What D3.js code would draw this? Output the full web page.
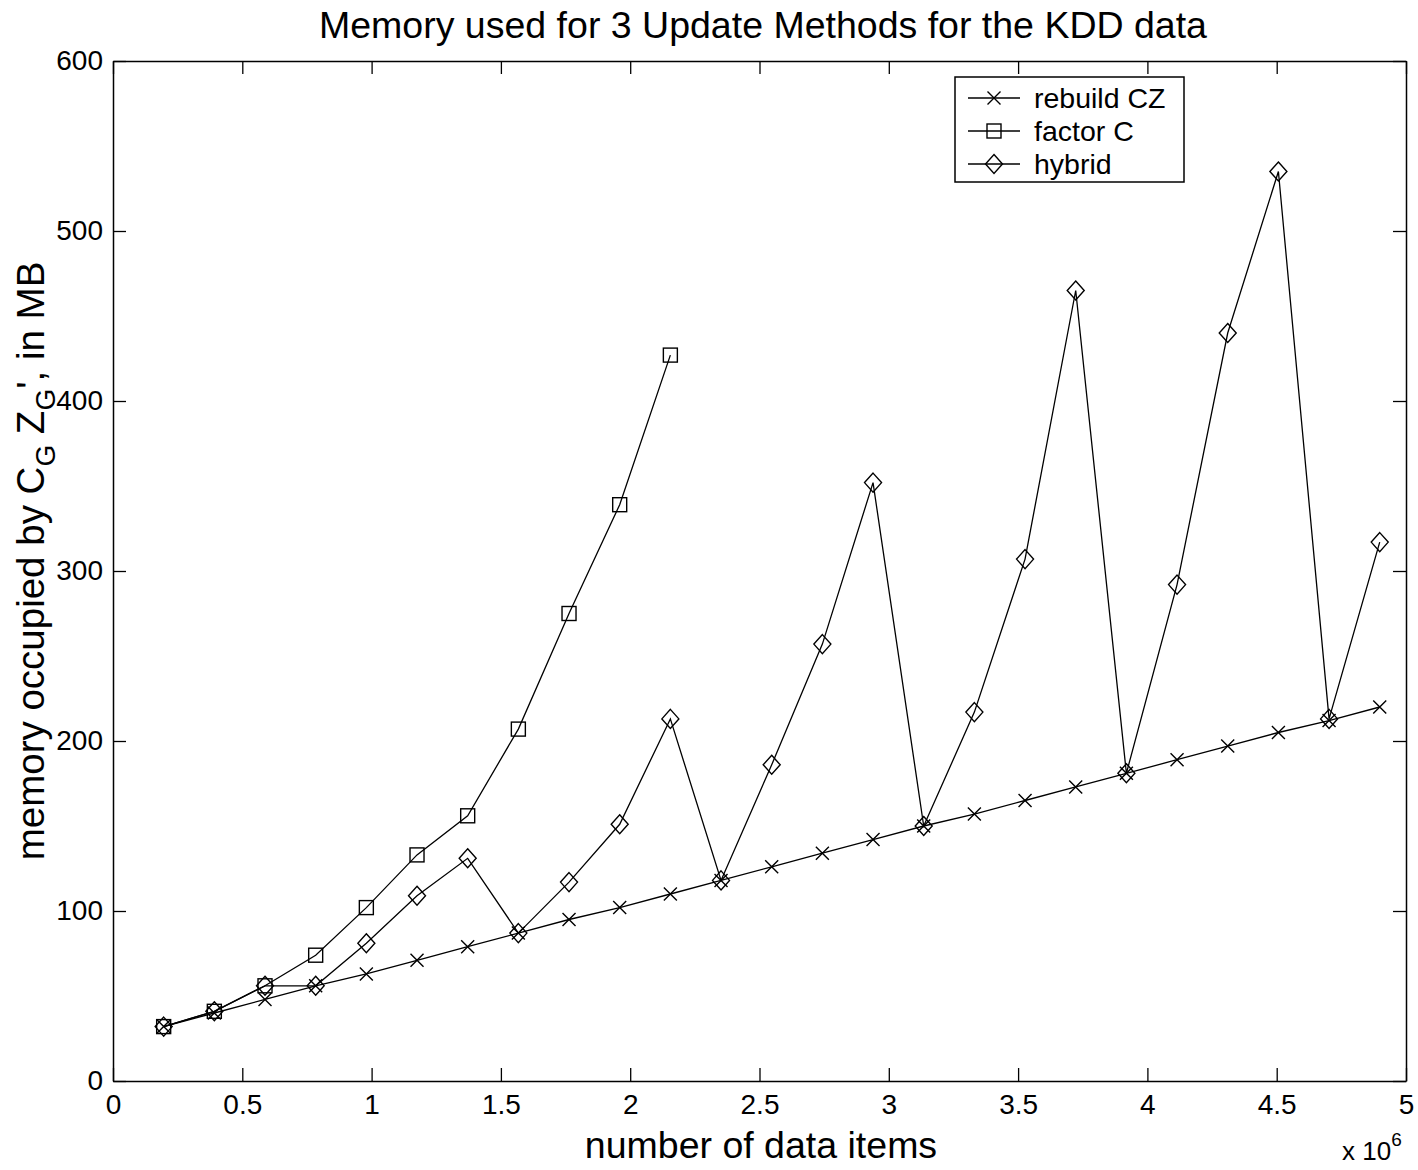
<!DOCTYPE html>
<html>
<head>
<meta charset="utf-8">
<script src="https://cdn.jsdelivr.net/npm/d3@7"></script>
<style>
  body { margin: 0; background: #fff; }
  text { font-family: "Liberation Sans", Arial, Helvetica, sans-serif; fill: #000; }
</style>
</head>
<body>
<script>
// KDD data split into 25 chunks
const step = 195937;
const rebuildCZ = [32, 40, 48, 56, 63, 71, 79, 87, 95, 102, 110, 118, 126, 134, 142, 150, 157, 165, 173, 181, 189, 197, 205, 212, 220];
const factorC = [32, 41, 56, 74, 102, 133, 156, 207, 275, 339, 427];
const hybrid = [32, 41, 56, 56, 81, 109, 131, 87, 117, 151, 213, 118, 186, 257, 352, 150, 217, 307, 465, 181, 292, 440, 535, 213, 317];
const xTicks = [0, 0.5e6, 1e6, 1.5e6, 2e6, 2.5e6, 3e6, 3.5e6, 4e6, 4.5e6, 5e6];
const yTicks = [0, 100, 200, 300, 400, 500, 600];
const seriesNames = ['rebuild CZ', 'factor C', 'hybrid'];

const width = 1418, height = 1170;
const margin = { left: 113, right: 12, top: 61, bottom: 89 };

const svg = d3.select('body').append('svg')
    .attr('width', width)
    .attr('height', height);

const x = d3.scaleLinear().domain([0, 5e6]).range([margin.left, width - margin.right]);
const y = d3.scaleLinear().domain([0, 600]).range([height - margin.bottom, margin.top]);

const toPoints = vals => vals.map((v, i) => ({ x: (i + 1) * step, y: v }));

// axes box with inward ticks on all sides
const tickLen = 13;
const fmtX = d => d === 0 ? '0' : String(d / 1e6);

svg.append('g')
    .attr('transform', `translate(0,${y(0)})`)
    .call(d3.axisBottom(x).tickValues(xTicks).tickSizeInner(-tickLen).tickSizeOuter(0).tickPadding(13).tickFormat(fmtX))
    .call(g => g.selectAll('text').attr('font-size', 28));
svg.append('g')
    .attr('transform', `translate(0,${y(600)})`)
    .call(d3.axisTop(x).tickValues(xTicks).tickSizeInner(-tickLen).tickSizeOuter(0).tickFormat(''));
svg.append('g')
    .attr('transform', `translate(${x(0)},0)`)
    .call(d3.axisLeft(y).tickValues(yTicks).tickSizeInner(-tickLen).tickSizeOuter(0).tickPadding(10))
    .call(g => g.selectAll('text').attr('font-size', 28));
svg.append('g')
    .attr('transform', `translate(${x(5e6)},0)`)
    .call(d3.axisRight(y).tickValues(yTicks).tickSizeInner(-tickLen).tickSizeOuter(0).tickFormat(''));

svg.selectAll('.domain').attr('stroke', '#000').attr('stroke-width', 1.5);
svg.selectAll('.tick line').attr('stroke', '#000').attr('stroke-width', 1.3);
svg.selectAll('.tick text').attr('fill', '#000').attr('font-family', '"Liberation Sans", Arial, sans-serif');

// marker drawing
function drawMarker(g, type, cx, cy) {
    if (type === 'x') {
        const s = 6.5;
        g.append('path')
            .attr('d', `M${cx - s},${cy - s}L${cx + s},${cy + s}M${cx - s},${cy + s}L${cx + s},${cy - s}`)
            .attr('stroke', '#000').attr('stroke-width', 1.4).attr('fill', 'none');
    } else if (type === 'square') {
        const s = 7;
        g.append('rect')
            .attr('x', cx - s).attr('y', cy - s).attr('width', 2 * s).attr('height', 2 * s)
            .attr('stroke', '#000').attr('stroke-width', 1.4).attr('fill', 'none');
    } else {
        const w = 8.5, h = 9.5;
        g.append('path')
            .attr('d', `M${cx},${cy - h}L${cx + w},${cy}L${cx},${cy + h}L${cx - w},${cy}Z`)
            .attr('stroke', '#000').attr('stroke-width', 1.4).attr('fill', 'none');
    }
}

const line = d3.line().x(d => x(d.x)).y(d => y(d.y));
const series = [
    { vals: rebuildCZ, marker: 'x' },
    { vals: factorC, marker: 'square' },
    { vals: hybrid, marker: 'diamond' }
];

series.forEach(s => {
    const pts = toPoints(s.vals);
    const g = svg.append('g');
    g.append('path')
        .datum(pts)
        .attr('d', line)
        .attr('fill', 'none')
        .attr('stroke', '#000')
        .attr('stroke-width', 1.3);
    pts.forEach(p => drawMarker(g, s.marker, x(p.x), y(p.y)));
});

// legend
const legend = svg.append('g');
legend.append('rect')
    .attr('x', 955).attr('y', 77).attr('width', 229).attr('height', 105)
    .attr('fill', '#fff').attr('stroke', '#000').attr('stroke-width', 1.5);
seriesNames.forEach((name, i) => {
    const ly = 98 + i * 33;
    legend.append('line')
        .attr('x1', 968).attr('x2', 1020).attr('y1', ly).attr('y2', ly)
        .attr('stroke', '#000').attr('stroke-width', 1.3);
    drawMarker(legend, series[i].marker, 994, ly);
    legend.append('text')
        .attr('x', 1034).attr('y', ly + 10)
        .attr('font-size', 28.5)
        .text(name);
});

// title
svg.append('text')
    .attr('x', 763).attr('y', 38)
    .attr('text-anchor', 'middle')
    .attr('font-size', 37.5)
    .text('Memory used for 3 Update Methods for the KDD data');

// x label
svg.append('text')
    .attr('x', 761).attr('y', 1158)
    .attr('text-anchor', 'middle')
    .attr('font-size', 37.5)
    .text('number of data items');

// exponent
const expo = svg.append('text')
    .attr('x', 1342).attr('y', 1160)
    .attr('font-size', 26);
expo.append('tspan').text('x 10');
expo.append('tspan').attr('dy', -14).attr('font-size', 19).text('6');

// y label
const yl = svg.append('text')
    .attr('transform', 'translate(44,561) rotate(-90)')
    .attr('text-anchor', 'middle')
    .attr('font-size', 38.5);
yl.append('tspan').text('memory occupied by C');
yl.append('tspan').attr('dy', 11).attr('font-size', 28).text('G');
yl.append('tspan').attr('dy', -11).text(' Z');
yl.append('tspan').attr('dy', 11).attr('font-size', 28).text('G');
yl.append('tspan').attr('dy', -11).text('\', in MB');
</script>
</body>
</html>
